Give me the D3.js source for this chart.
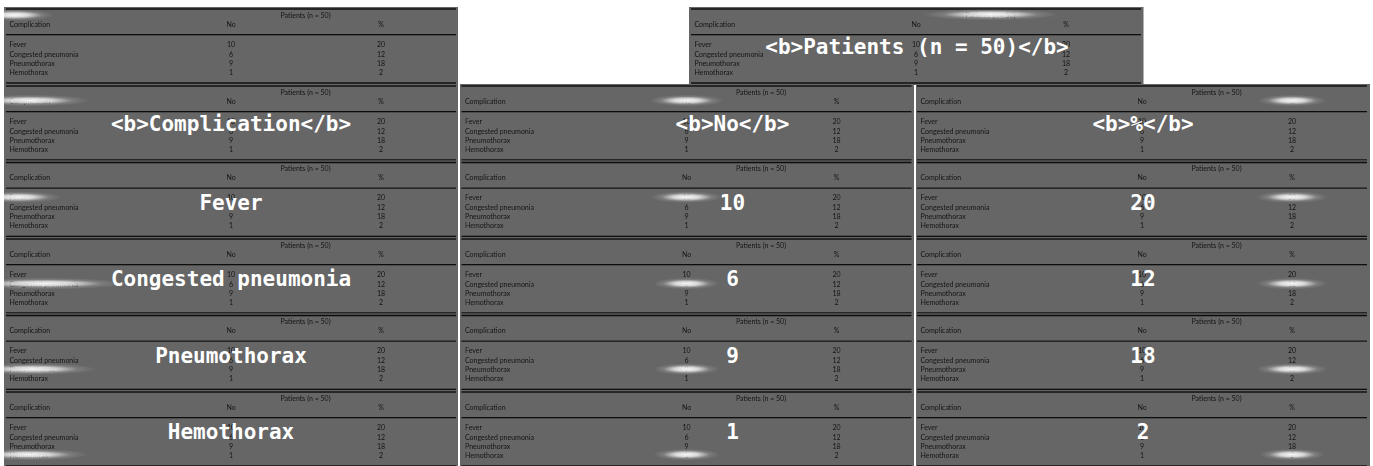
<!DOCTYPE html>
<html>
<head>
<meta charset="utf-8">
<script src="https://cdn.jsdelivr.net/npm/d3@7"></script>
<style>
  html, body { margin: 0; padding: 0; background: #fff; }
  svg { display: block; }
</style>
</head>
<body>
<svg width="1373" height="466"></svg>
<script>
const spanner = "Patients (n = 50)"
const headers = ["Complication", "No", "%"]
const complications = ["Fever", "Congested pneumonia", "Pneumothorax", "Hemothorax"]
const counts = ["10", "6", "9", "1"]
const percents = ["20", "12", "18", "2"]

const svg = d3.select("svg")
const panelWidth = 454
const panelHeight = 77

const columns = [complications, counts, percents]

// one panel per cell of the table; the top two are the empty corner and the spanning header
const panels = [
  { label: "", cell: "corner", at: [4, 8], edge: [0, 454] },
  { label: "<b>" + spanner + "</b>", cell: "spanner", at: [689, 8], edge: [0, 454.5] }
]
headers.forEach((h, c) => panels.push({ label: "<b>" + h + "</b>", cell: "header", col: c, grid: [c, 0] }))
columns.forEach((values, c) => {
  values.forEach((v, r) => panels.push({ label: v, cell: "body", col: c, row: r, grid: [c, r + 1] }))
})

const panelX = d3.scaleLinear().domain([0, 2]).range([4, 915])
const panelY = d3.scaleLinear().domain([0, 4]).range([85, 391])

const edges = [[0, 454], [0.5, 454.5], [1, 455]]

// positions inside a panel
const colX = d3.scaleOrdinal().domain([0, 1, 2]).range([5.5, 227, 377])
const rowY = d3.scaleOrdinal().domain([0, 1, 2, 3]).range([35.6, 45.6, 54.6, 63.6])
// the big labels of the middle column sit right of the panel centre
const labelX = d3.scaleOrdinal().domain([0, 1, 2]).range([227, 273, 228])
const rules = [
  { y: 1, w: 1.4 },
  { y: 26.6, w: 1.2 },
  { y: 75, w: 1.4 }
]

const defs = svg.append("defs")
const glowGrad = defs.append("radialGradient").attr("id", "glow")
glowGrad.append("stop").attr("offset", "0%").attr("stop-color", "#fff").attr("stop-opacity", 0.95)
glowGrad.append("stop").attr("offset", "35%").attr("stop-color", "#fff").attr("stop-opacity", 0.75)
glowGrad.append("stop").attr("offset", "70%").attr("stop-color", "#fff").attr("stop-opacity", 0.15)
glowGrad.append("stop").attr("offset", "100%").attr("stop-color", "#fff").attr("stop-opacity", 0)
defs.append("filter").attr("id", "soft")
  .append("feGaussianBlur").attr("stdDeviation", 0.38)
defs.append("clipPath").attr("id", "panel-clip")
  .append("rect").attr("y", -1).attr("width", panelWidth).attr("height", panelHeight + 1)

const panel = svg.selectAll("g.panel")
  .data(panels)
  .join("g")
  .attr("class", "panel")
  .attr("transform", (d) => d.grid
    ? "translate(" + panelX(d.grid[0]) + "," + panelY(d.grid[1]) + ")"
    : "translate(" + d.at[0] + "," + d.at[1] + ")")

panel.append("rect")
  .attr("x", (d) => (d.grid ? edges[d.grid[0]] : d.edge)[0])
  .attr("y", -1)
  .attr("width", (d) => {
    const e = d.grid ? edges[d.grid[0]] : d.edge
    return e[1] - e[0]
  })
  .attr("height", panelHeight + 1)
  .attr("fill", "#666")

panel.each(function (d) {
  const g = d3.select(this)
  const table = g.append("g").attr("filter", "url(#soft)")
    .style("font-family", "Lato, sans-serif")
    .style("font-size", "7px")
    .attr("fill", "#141414")

  table.selectAll("line")
    .data(rules)
    .join("line")
    .attr("x1", 2)
    .attr("x2", 452)
    .attr("y1", (r) => r.y)
    .attr("y2", (r) => r.y)
    .attr("stroke", "#111")
    .attr("stroke-width", (r) => r.w)

  const anchor = (c) => (c === 0 ? "start" : "middle")
  const cells = []
  cells.push({ text: spanner, x: 301.5, y: 6.5, a: "middle", hit: d.cell === "spanner" })
  headers.forEach((h, c) => cells.push({ text: h, x: colX(c), y: 15.5, a: anchor(c), hit: d.cell === "header" && d.col === c }))
  columns.forEach((values, c) => values.forEach((v, r) => {
    cells.push({ text: v, x: colX(c), y: rowY(r), a: anchor(c), hit: d.cell === "body" && d.col === c && d.row === r })
  }))

  const texts = table.selectAll("text")
    .data(cells)
    .join("text")
    .attr("x", (t) => t.x)
    .attr("y", (t) => t.y)
    .attr("text-anchor", (t) => t.a)
    .attr("dominant-baseline", "central")
    .text((t) => t.text)

  const glow = (cx, cy, rx) => g.append("ellipse")
    .attr("clip-path", "url(#panel-clip)")
    .attr("cx", cx)
    .attr("cy", cy)
    .attr("rx", rx)
    .attr("ry", 5.8)
    .attr("fill", "url(#glow)")

  // white glow sits over the cell this panel is about
  texts.filter((t) => t.hit).each(function (t) {
    const box = this.getBBox()
    glow(box.x + box.width / 2, t.y, box.width * 0.75 + 30)
  })
  if (d.cell === "corner") glow(10, 7, 40)

  const bigX = d.cell === "spanner" ? 228 : labelX(d.col)
  g.append("text")
    .attr("x", bigX)
    .attr("y", d.cell === "body" ? panelHeight / 2 + 2.5 : panelHeight / 2 + 0.5)
    .attr("text-anchor", "middle")
    .attr("dominant-baseline", "central")
    .style("font-family", "'DejaVu Sans Mono', monospace")
    .style("font-weight", "bold")
    .style("font-size", "21px")
    .attr("fill", "#fff")
    .text(d.label)
})
</script>
</body>
</html>
